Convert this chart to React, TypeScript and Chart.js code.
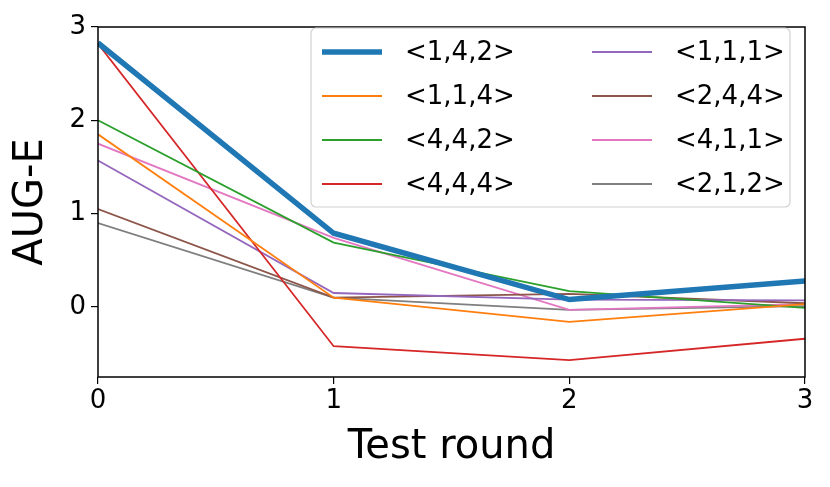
import React, { useEffect, useRef } from "react";
import { Chart, registerables } from "chart.js";

Chart.register(...registerables);

const rounds = [0, 1, 2, 3];
const seriesLabels = ["<1,4,2>", "<1,1,4>", "<4,4,2>", "<4,4,4>", "<1,1,1>", "<2,4,4>", "<4,1,1>", "<2,1,2>"];
const s142 = [2.83, 0.79, 0.08, 0.28];
const s114 = [1.85, 0.1, -0.16, 0.03];
const s442 = [2.0, 0.69, 0.17, -0.01];
const s444 = [2.82, -0.42, -0.57, -0.34];
const s111 = [1.57, 0.15, 0.08, 0.07];
const s244 = [1.05, 0.1, 0.14, 0.04];
const s411 = [1.75, 0.74, -0.03, 0.03];
const s212 = [0.9, 0.1, -0.03, 0.01];
const yTicks = [0, 1, 2, 3];
const colors = ["#1f77b4", "#ff7f0e", "#2ca02c", "#d62728", "#9467bd", "#8c564b", "#e377c2", "#7f7f7f"];
const widths = [5.5, 1.8, 1.8, 1.8, 1.8, 1.8, 1.8, 1.8];

const FONT = "'DejaVu Sans', sans-serif";

const boxPlugin = {
  id: "box",
  afterDraw(chart: any) {
    const { ctx, chartArea } = chart;
    ctx.save();
    ctx.strokeStyle = "#000";
    ctx.lineWidth = 1.5;
    ctx.strokeRect(chartArea.left, chartArea.top, chartArea.right - chartArea.left, chartArea.bottom - chartArea.top);
    ctx.restore();
  },
};

const legendPlugin = {
  id: "mplLegend",
  afterDraw(chart: any) {
    const { ctx } = chart;
    const x0 = 311, y0 = 28, w = 479, h = 179;
    ctx.save();
    ctx.fillStyle = "rgba(255,255,255,0.8)";
    ctx.strokeStyle = "#d0d0d0";
    ctx.lineWidth = 1.2;
    const r = 5;
    ctx.beginPath();
    ctx.moveTo(x0 + r, y0);
    ctx.arcTo(x0 + w, y0, x0 + w, y0 + h, r);
    ctx.arcTo(x0 + w, y0 + h, x0, y0 + h, r);
    ctx.arcTo(x0, y0 + h, x0, y0, r);
    ctx.arcTo(x0, y0, x0 + w, y0, r);
    ctx.closePath();
    ctx.fill();
    ctx.stroke();
    ctx.font = `26px ${FONT}`;
    ctx.textBaseline = "middle";
    chart.data.datasets.forEach((ds: any, i: number) => {
      const col = Math.floor(i / 4);
      const row = i % 4;
      const lx = col === 0 ? 322 : 592;
      const ly = 52 + row * 44;
      ctx.strokeStyle = ds.borderColor;
      ctx.lineWidth = ds.borderWidth;
      ctx.beginPath();
      ctx.moveTo(lx, ly);
      ctx.lineTo(lx + 60, ly);
      ctx.stroke();
      ctx.fillStyle = "#000";
      ctx.fillText(ds.label, lx + 83, ly + 1);
    });
    ctx.restore();
  },
};

export default function App() {
  const ref = useRef<HTMLCanvasElement>(null);
  useEffect(() => {
    document.body.style.margin = "0";
    const all = [s142, s114, s442, s444, s111, s244, s411, s212];
    const chart = new Chart(ref.current!, {
      type: "line",
      data: {
        datasets: all.map((vals, i) => ({
          label: seriesLabels[i],
          data: rounds.map((r, j) => ({ x: r, y: vals[j] })),
          borderColor: colors[i],
          backgroundColor: colors[i],
          borderWidth: widths[i],
          pointRadius: 0,
          tension: 0,
          order: i === 0 ? -1 : i,
        })),
      },
      options: {
        animation: false,
        responsive: false,
        layout: { padding: { top: 27, right: 25, left: 0, bottom: 0 } },
        plugins: { legend: { display: false }, tooltip: { enabled: false } },
        scales: {
          x: {
            type: "linear",
            min: 0,
            max: 3,
            ticks: { stepSize: 1, color: "#000", font: { family: FONT, size: 26 }, padding: 2 },
            grid: { display: true, drawOnChartArea: false, drawTicks: true, tickLength: 7, color: "#000", lineWidth: 1.2 },
            border: { display: false },
            title: { display: true, text: "Test round", color: "#000", font: { family: FONT, size: 40 }, padding: { top: 0, bottom: 15 } },
            afterFit(scale: any) { scale.height = 110; },
          },
          y: {
            type: "linear",
            min: -0.75,
            max: 3,
            afterBuildTicks(scale: any) { scale.ticks = yTicks.map((v) => ({ value: v })); },
            ticks: { color: "#000", font: { family: FONT, size: 26 }, padding: 5 },
            grid: { display: true, drawOnChartArea: false, drawTicks: true, tickLength: 7, color: "#000", lineWidth: 1.2 },
            border: { display: false },
            title: { display: true, text: "AUG-E", color: "#000", font: { family: FONT, size: 40 }, padding: { top: 8, bottom: 0 } },
            afterFit(scale: any) { scale.width = 98; },
          },
        },
      } as any,
      plugins: [boxPlugin, legendPlugin],
    });
    return () => chart.destroy();
  }, []);
  return (
    <div style={{ width: 830, height: 487, background: "#fff" }}>
      <canvas ref={ref} width={830} height={487} style={{ width: 830, height: 487, display: "block" }} />
    </div>
  );
}
